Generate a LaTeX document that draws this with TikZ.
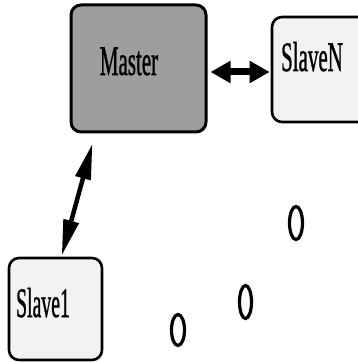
\documentclass[tikz,border=0pt]{standalone}
\usepackage{fontspec}
\setmainfont{Liberation Serif}
\newfontfamily\labelfont[FakeBold=1.2]{Liberation Serif}
\usetikzlibrary{arrows.meta}
\tikzset{
  masterbox/.style={draw, line width=3pt, rounded corners=10pt, fill=black!38, inner sep=0pt},
  slavebox/.style={draw, line width=2.6pt, rounded corners=10pt, fill=black!5, inner sep=0pt},
  lbl/.style={anchor=base, inner sep=0pt, font=\labelfont\fontsize{42}{42}\selectfont},
  hdbl/.style={line width=7pt, {Triangle[length=20pt,width=21pt]}-{Triangle[length=20pt,width=21pt]}},
  sdbl/.style={line width=4.5pt, {Triangle[length=36pt,width=15pt]}-{Triangle[length=36pt,width=15pt]}},
  dotmark/.style={line width=3.2pt},
}
\begin{document}
\begin{tikzpicture}[x=1pt,y=1pt]
\useasboundingbox (0,0) rectangle (358,362);
\clip (0,0) rectangle (358,362);
% boxes
\node[masterbox, minimum width=135pt, minimum height=127pt] (master) at (138.5,293.5) {};
\node[slavebox, minimum width=100pt, minimum height=105pt] (slaveN) at (322,292.5) {};
\node[slavebox, minimum width=93pt, minimum height=102pt] (slave1) at (55.5,53) {};
% labels
\node[lbl] (tmaster) at (129,287) {\scalebox{0.5}[1]{Master}};
\node[lbl] (tslaveN) at (312,291) {\scalebox{0.5}[1]{SlaveN}};
\node[lbl] (tslave1) at (43,45) {\scalebox{0.47}[1]{Slave1}};
% connectors
\draw[hdbl] ([xshift=3pt,yshift=-3.5pt]master.east) -- ([xshift=-1pt,yshift=-2.5pt]slaveN.west);
\draw[sdbl] ([shift={(23pt,-10pt)}]master.south west) -- ([shift={(54pt,1pt)}]slave1.north west);
% continuation marks
\draw[dotmark] (178,32) ellipse [x radius=6.5pt, y radius=15.5pt];
\draw[dotmark] (245.5,60) ellipse [x radius=6pt, y radius=16.5pt];
\draw[dotmark] (296,139) ellipse [x radius=6.5pt, y radius=16.5pt];
\end{tikzpicture}
\end{document}
